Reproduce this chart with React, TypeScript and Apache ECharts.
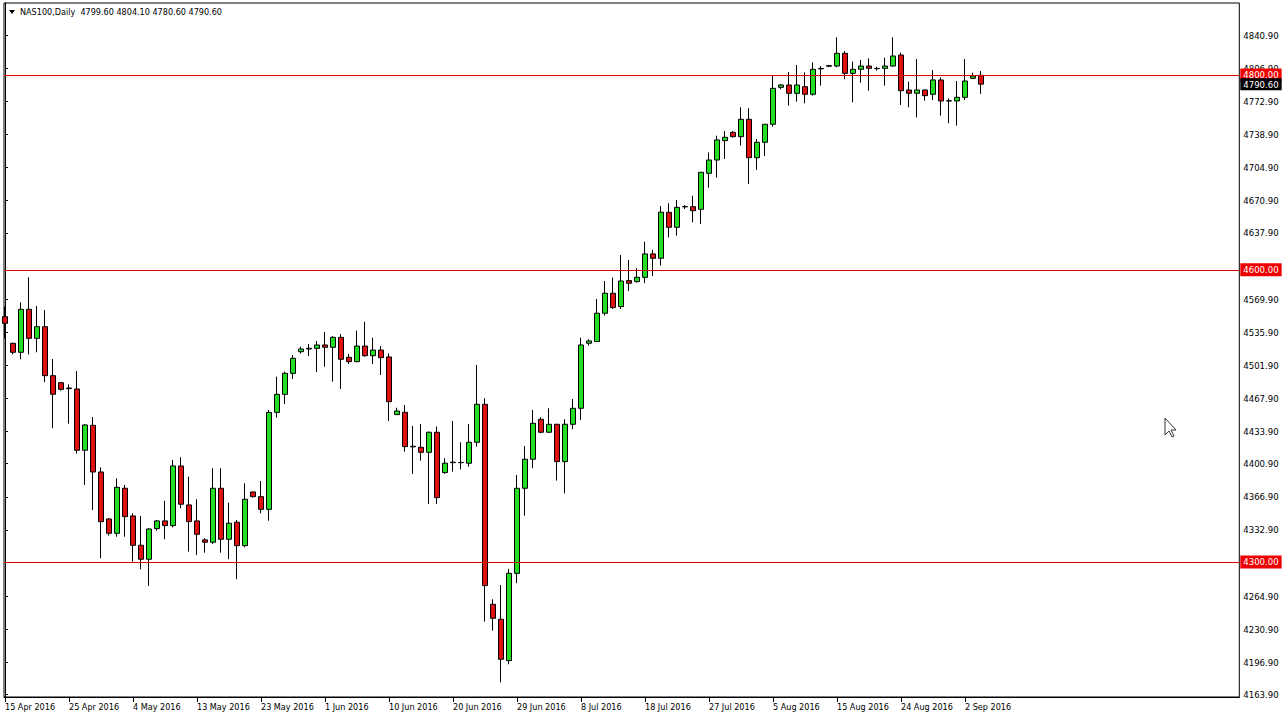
import React, { useEffect, useRef } from "react";
import * as echarts from "echarts";

// Daily bars (bar index 0 = 15 Apr 2016, incl. Sunday bars)
const opens = [
  4551.9, 4524.5, 4515.3, 4559.4, 4529.6, 4541.6, 4491.3, 4484.1, 4478.6, 4477.6,
  4414.7, 4440.3, 4392.4, 4344.2, 4329.5, 4375.7, 4347.3, 4317.2, 4302.8, 4334.3,
  4342.2, 4337.4, 4398.6, 4358.6, 4342.2, 4322.7, 4320.3, 4375.7, 4323.3, 4340.8,
  4316.8, 4371.9, 4367.1, 4354.1, 4453.6, 4472.1, 4493.7, 4515.9, 4518.7, 4519.3,
  4522.8, 4520.4, 4530.6, 4510.1, 4505.7, 4521.7, 4511.8, 4517.6, 4510.5, 4451.3,
  4453.7, 4418.8, 4417.8, 4412.6, 4433.2, 4391.8, 4402.0, 4402.2, 4401.4, 4422.9,
  4461.9, 4256.6, 4241.2, 4198.8, 4288.4, 4375.7, 4405.5, 4446.5, 4433.2, 4441.4,
  4403.1, 4441.4, 4457.8, 4524.6, 4526.3, 4555.4, 4575.9, 4562.2, 4588.9, 4587.9,
  4592.3, 4616.3, 4611.8, 4659.0, 4643.6, 4664.6, 4664.8, 4662.1, 4699.1, 4712.7,
  4732.6, 4741.1, 4736.7, 4754.5, 4715.1, 4730.9, 4749.4, 4787.3, 4789.7, 4781.2,
  4788.0, 4780.2, 4806.3, 4809.0, 4809.2, 4822.2, 4801.7, 4805.8, 4809.2, 4806.8,
  4806.8, 4809.2, 4820.5, 4784.6, 4781.2, 4784.6, 4780.2, 4794.9, 4773.5, 4773.3,
  4777.1, 4796.6, 4799.6,
];
const highs = [
  4562.0, 4525.2, 4566.6, 4592.3, 4562.8, 4558.7, 4508.4, 4484.8, 4482.4, 4496.1,
  4441.4, 4448.9, 4397.2, 4344.9, 4385.9, 4379.1, 4350.0, 4347.3, 4334.6, 4343.2,
  4363.0, 4404.8, 4407.5, 4387.7, 4364.4, 4324.4, 4396.2, 4396.2, 4361.0, 4343.2,
  4380.8, 4372.3, 4383.2, 4456.0, 4490.3, 4495.4, 4512.5, 4521.1, 4523.8, 4526.9,
  4536.1, 4532.0, 4534.1, 4513.5, 4537.5, 4546.7, 4530.3, 4521.7, 4514.2, 4458.4,
  4461.2, 4439.7, 4441.7, 4433.9, 4439.0, 4406.5, 4444.8, 4422.9, 4441.7, 4502.3,
  4468.1, 4261.7, 4276.4, 4292.9, 4389.4, 4419.1, 4456.1, 4448.6, 4457.8, 4441.8,
  4446.5, 4467.4, 4530.4, 4528.7, 4570.1, 4588.5, 4592.0, 4615.2, 4610.1, 4601.6,
  4628.9, 4620.4, 4665.5, 4668.3, 4671.7, 4666.5, 4676.1, 4700.4, 4720.6, 4737.7,
  4742.5, 4742.5, 4766.8, 4765.8, 4734.3, 4749.7, 4799.3, 4790.8, 4803.0, 4810.3,
  4802.7, 4813.0, 4809.2, 4810.3, 4838.7, 4824.6, 4813.7, 4815.4, 4817.1, 4808.5,
  4817.8, 4838.7, 4822.9, 4793.2, 4816.4, 4784.8, 4805.1, 4797.6, 4776.0, 4793.8,
  4816.4, 4802.4, 4804.1,
];
const lows = [
  4529.6, 4513.2, 4508.1, 4513.2, 4515.3, 4484.5, 4437.3, 4475.9, 4442.0, 4411.2,
  4379.1, 4353.4, 4303.8, 4327.1, 4326.0, 4326.0, 4300.4, 4292.5, 4275.4, 4332.2,
  4323.3, 4335.7, 4355.2, 4310.7, 4307.3, 4309.6, 4318.5, 4309.6, 4302.8, 4282.3,
  4315.1, 4366.1, 4350.0, 4342.4, 4448.2, 4462.2, 4487.9, 4513.9, 4511.5, 4495.1,
  4500.5, 4485.1, 4477.6, 4503.3, 4505.0, 4510.8, 4503.3, 4492.0, 4444.7, 4450.9,
  4413.3, 4390.4, 4404.1, 4359.6, 4359.6, 4390.4, 4392.8, 4395.2, 4397.9, 4418.5,
  4238.8, 4229.6, 4176.5, 4195.0, 4278.2, 4347.6, 4396.2, 4432.2, 4432.8, 4383.6,
  4370.6, 4436.3, 4445.9, 4522.2, 4525.9, 4553.0, 4559.8, 4559.8, 4578.3, 4586.8,
  4586.2, 4593.7, 4604.3, 4633.3, 4635.1, 4662.4, 4648.7, 4647.0, 4684.3, 4694.6,
  4713.8, 4735.7, 4727.5, 4688.1, 4702.5, 4716.8, 4747.0, 4785.3, 4768.5, 4772.6,
  4770.9, 4778.8, 4789.1, 4808.0, 4807.9, 4795.6, 4771.9, 4792.1, 4783.9, 4804.5,
  4789.1, 4808.6, 4769.2, 4766.8, 4756.5, 4773.7, 4774.3, 4758.3, 4750.4, 4748.0,
  4774.3, 4795.9, 4780.6,
];
const closes = [
  4545.0, 4515.3, 4559.4, 4529.6, 4541.6, 4491.3, 4472.2, 4477.3, 4478.0, 4414.7,
  4440.7, 4392.4, 4341.4, 4329.5, 4376.7, 4346.6, 4317.1, 4302.8, 4333.9, 4342.2,
  4337.4, 4398.6, 4359.3, 4341.5, 4328.5, 4320.3, 4375.7, 4323.3, 4339.8, 4316.8,
  4364.4, 4367.1, 4354.1, 4453.6, 4472.1, 4493.7, 4509.1, 4518.7, 4519.4, 4522.8,
  4520.4, 4530.6, 4508.1, 4505.7, 4521.7, 4511.8, 4517.6, 4509.8, 4464.6, 4455.0,
  4418.5, 4418.2, 4412.6, 4433.2, 4366.1, 4401.4, 4402.5, 4402.0, 4422.9, 4461.9,
  4275.8, 4242.2, 4200.1, 4288.4, 4375.7, 4405.5, 4442.4, 4433.2, 4441.4, 4403.1,
  4441.4, 4457.8, 4522.8, 4527.0, 4555.4, 4575.9, 4561.2, 4588.5, 4586.2, 4592.3,
  4616.3, 4611.8, 4659.1, 4643.6, 4664.1, 4664.9, 4660.7, 4700.1, 4712.7, 4733.3,
  4736.0, 4736.7, 4754.5, 4715.1, 4730.9, 4749.4, 4786.3, 4789.7, 4781.2, 4789.7,
  4780.2, 4805.8, 4806.7, 4809.6, 4822.2, 4801.7, 4805.8, 4809.2, 4806.8, 4806.5,
  4809.2, 4819.5, 4783.9, 4781.2, 4784.6, 4778.8, 4794.9, 4773.3, 4773.3, 4777.1,
  4793.8, 4799.0, 4790.6,
];

const dateLabels = [
  "15 Apr 2016", "25 Apr 2016", "4 May 2016", "13 May 2016", "23 May 2016",
  "1 Jun 2016", "10 Jun 2016", "20 Jun 2016", "29 Jun 2016", "8 Jul 2016",
  "18 Jul 2016", "27 Jul 2016", "5 Aug 2016", "15 Aug 2016", "24 Aug 2016",
  "2 Sep 2016",
];
const barsPerLabel = 8;

const priceTicks = [
  4840.9, 4806.9, 4772.9, 4738.9, 4704.9, 4670.9, 4637.9, 4569.9, 4535.9,
  4501.9, 4467.9, 4433.9, 4400.9, 4366.9, 4332.9, 4264.9, 4230.9, 4196.9, 4163.9,
];
const levelLines = [4800, 4600, 4300];
const lastPrice = 4790.6;
const titleText = "NAS100,Daily  4799.60 4804.10 4780.60 4790.60";

const FONT = '"DejaVu Sans Condensed", "Liberation Sans", sans-serif';

export default function App() {
  const ref = useRef<HTMLDivElement>(null);

  useEffect(() => {
    document.body.style.margin = "0";
    document.body.style.background = "#fff";
    const chart = echarts.init(ref.current!, null, { renderer: "svg" });

    const data = opens.map((o, i) => [i, o, closes[i], lows[i], highs[i]]);
    const labelIdx = dateLabels.map((_, k) => k * barsPerLabel);

    const option: any = {
      animation: false,
      backgroundColor: "#ffffff",
      grid: {
        left: 4,
        right: 44.7,
        top: 3,
        bottom: 24,
        show: true,
        borderColor: "#000",
        borderWidth: 1,
        backgroundColor: "transparent",
      },
      xAxis: {
        type: "value",
        min: -0.125,
        max: 154.29,
        splitLine: { show: false },
        axisLine: { show: true, lineStyle: { color: "#000", width: 1 } },
        axisTick: {
          show: true,
          customValues: labelIdx,
          length: 5,
          lineStyle: { color: "#000" },
        },
        axisLabel: {
          customValues: labelIdx,
          formatter: (v: number) => dateLabels[Math.round(v / barsPerLabel)] ?? "",
          align: "left",
          margin: 5,
          fontSize: 9,
          color: "#000",
          fontFamily: FONT,
        },
      },
      yAxis: {
        type: "value",
        position: "right",
        min: 4161.4,
        max: 4873.9,
        splitLine: { show: false },
        axisLine: { show: true, lineStyle: { color: "#000", width: 1 } },
        axisTick: {
          show: true,
          customValues: priceTicks,
          length: 3,
          lineStyle: { color: "#000" },
        },
        axisLabel: {
          customValues: priceTicks,
          formatter: (v: number) => v.toFixed(2),
          margin: 4,
          fontSize: 9.5,
          color: "#000",
          fontFamily: FONT,
        },
      },
      series: [
        {
          type: "candlestick",
          data,
          encode: { x: 0, y: [1, 2, 3, 4] },
          barWidth: 5,
          itemStyle: {
            color: "#22dd22",
            color0: "#dd1111",
            borderColor: "#000",
            borderColor0: "#000",
            borderColorDoji: "#000",
            borderWidth: 1,
          },
          markLine: {
            silent: true,
            symbol: ["none", "none"],
            precision: 2,
            lineStyle: { color: "#e00000", width: 1, type: "solid" },
            label: {
              show: true,
              position: "end",
              distance: 1,
              formatter: (p: any) => Number(p.value).toFixed(2),
              color: "#fff",
              backgroundColor: "#ee0000",
              padding: [2, 3, 1, 3],
              fontSize: 9.5,
              fontFamily: FONT,
            },
            data: [
              ...levelLines.map((v) => ({ yAxis: v })),
              {
                yAxis: lastPrice,
                lineStyle: { color: "rgba(0,0,0,0)" },
                label: { backgroundColor: "#000", padding: [1, 3, 1, 3] },
              },
            ],
          },
        },
      ],
      graphic: [
        {
          type: "polygon",
          shape: { points: [[9, 10], [15, 10], [12, 14]] },
          style: { fill: "#000" },
        },
        {
          type: "text",
          x: 20,
          y: 12,
          style: {
            text: titleText,
            fill: "#000",
            font: `9px ${FONT}`,
            verticalAlign: "middle",
          },
        },
        {
          type: "polygon",
          x: 1165,
          y: 418,
          shape: {
            points: [[0, 0], [0, 17], [4, 13], [7, 19], [9, 18], [6, 12], [11, 12]],
          },
          style: { fill: "#fff", stroke: "#333", lineWidth: 1 },
          z: 100,
        },
      ],
    };

    chart.setOption(option);
    return () => chart.dispose();
  }, []);

  return (
    <div
      ref={ref}
      style={{ position: "fixed", left: 0, top: 0, width: 1284, height: 721 }}
    />
  );
}
